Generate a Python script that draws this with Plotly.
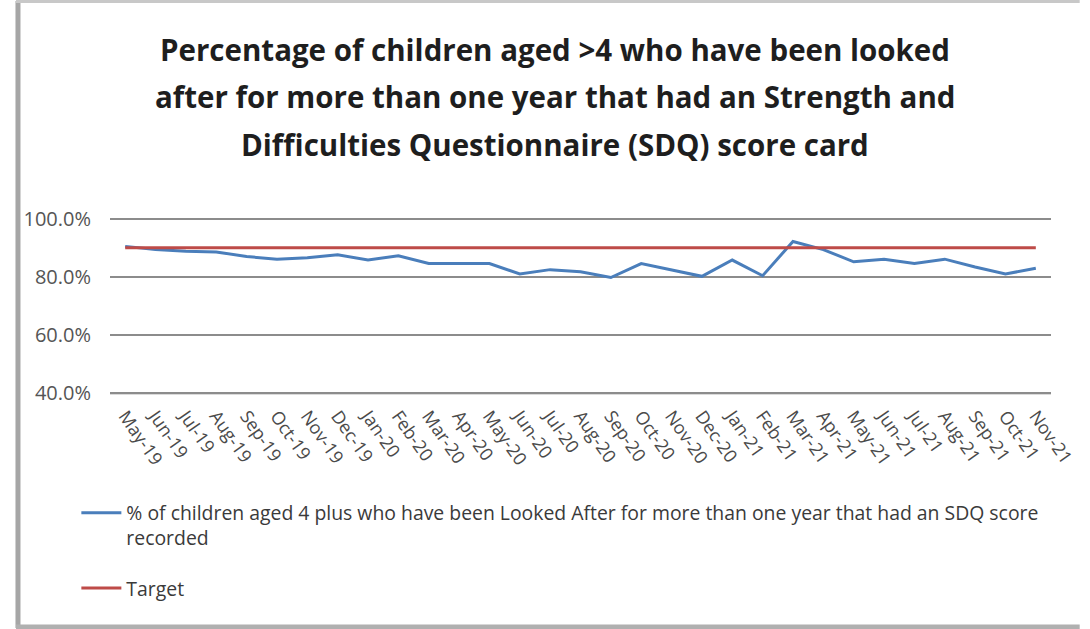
import plotly.graph_objects as go

# Monthly reporting periods
months = [
    "May-19", "Jun-19", "Jul-19", "Aug-19", "Sep-19", "Oct-19", "Nov-19", "Dec-19",
    "Jan-20", "Feb-20", "Mar-20", "Apr-20", "May-20", "Jun-20", "Jul-20", "Aug-20",
    "Sep-20", "Oct-20", "Nov-20", "Dec-20", "Jan-21", "Feb-21", "Mar-21", "Apr-21",
    "May-21", "Jun-21", "Jul-21", "Aug-21", "Sep-21", "Oct-21", "Nov-21",
]

# % of children aged 4+ looked after > 1 year with an SDQ score recorded
sdq_pct = [
    90.5, 89.4, 88.8, 88.6, 87.0, 86.1, 86.6, 87.6,
    85.8, 87.3, 84.6, 84.6, 84.6, 81.0, 82.5, 81.8,
    79.8, 84.6, 82.5, 80.2, 85.8, 80.4, 92.2, 89.4,
    85.2, 86.1, 84.6, 86.1, 83.4, 81.0, 83.0,
]

target_value = 90.0
target = [target_value] * len(months)

y_ticks = [40, 60, 80, 100]
y_min, y_max = 40, 100
y_pad = 0.6  # keeps the end gridlines inside the plot area

series_name = ("% of children aged 4 plus who have been Looked After for more than one year "
               "that had an SDQ score<br>recorded")

title_lines = [
    "Percentage of children aged >4 who have been looked",
    "after for more than one year that had an Strength and",
    "Difficulties Questionnaire (SDQ) score card",
]

FONT = "'Open Sans', sans-serif"

fig = go.Figure()
fig.add_trace(go.Scatter(
    x=months, y=sdq_pct, mode="lines", name=series_name,
    line=dict(color="#4a7ebb", width=3), legendgroup="a",
))
fig.add_trace(go.Scatter(
    x=months, y=target, mode="lines", name="Target",
    line=dict(color="#be4b48", width=3), legendgroup="b",
))

W, H = 1090, 629
TOP_PX, BOT_PX = 219, 393          # pixel rows of 100% and 40%
px_per_unit = (BOT_PX - TOP_PX) / (y_max - y_min)
ML, MR = 110, 29
MT = TOP_PX - y_pad * px_per_unit
MB = H - BOT_PX - y_pad * px_per_unit
pw, ph = W - ML - MR, H - MT - MB


def px_x(x):
    return (x - ML) / pw


def px_y(y):
    return (H - MB - y) / ph


shapes = [
    # category axis baseline at the bottom of the value range
    dict(type="line", xref="paper", yref="y", x0=0, x1=1, y0=y_min, y1=y_min,
         line=dict(color="#6e6e6e", width=2), layer="below"),
    # chart frame: grey border with a heavier left edge
    dict(type="line", xref="paper", yref="paper", x0=px_x(17), x1=px_x(17),
         y0=px_y(2), y1=px_y(627), line=dict(color="#a6a6a6", width=5)),
    dict(type="line", xref="paper", yref="paper", x0=px_x(15), x1=px_x(1090),
         y0=px_y(626), y1=px_y(626), line=dict(color="#b0b0b0", width=5)),
    dict(type="line", xref="paper", yref="paper", x0=px_x(15), x1=px_x(1090),
         y0=px_y(2), y1=px_y(2), line=dict(color="#c8c8c8", width=4)),
]

annotations = []
for i, line in enumerate(title_lines):
    annotations.append(dict(
        text=f"<b>{line}</b>", xref="paper", yref="paper",
        x=px_x(560), y=px_y(50 + 47.5 * i), xanchor="center", yanchor="middle",
        showarrow=False, font=dict(family=FONT, size=29.5, color="#1e1e1e"),
    ))

fig.update_layout(
    width=W, height=H,
    margin=dict(l=ML, r=MR, t=MT, b=MB),
    paper_bgcolor="white", plot_bgcolor="white",
    showlegend=True,
    legend=dict(
        x=px_x(76), y=px_y(493), xanchor="left", yanchor="top",
        font=dict(family=FONT, size=19.4, color="#3a3a3a"),
        valign="top", traceorder="grouped", tracegroupgap=22,
        itemwidth=40, bgcolor="rgba(0,0,0,0)",
    ),
    shapes=shapes,
    annotations=annotations,
    xaxis=dict(
        type="category", range=[-0.5, len(months) - 0.5],
        tickangle=55, showgrid=False, ticks="",
        tickfont=dict(family=FONT, size=18, color="#4a4a4a"),
        ticklabelstandoff=6,
        showline=False, zeroline=False,
    ),
    yaxis=dict(
        range=[y_min - y_pad, y_max + y_pad], tickvals=y_ticks,
        ticktext=[f"{v:.1f}%" for v in y_ticks],
        showgrid=True, gridcolor="#8c8c8c", gridwidth=1.5,
        zeroline=False, showline=False, ticks="",
        ticklabelstandoff=18,
        tickfont=dict(family=FONT, size=20, color="#555555"),
    ),
)

fig.write_html("out.html")
